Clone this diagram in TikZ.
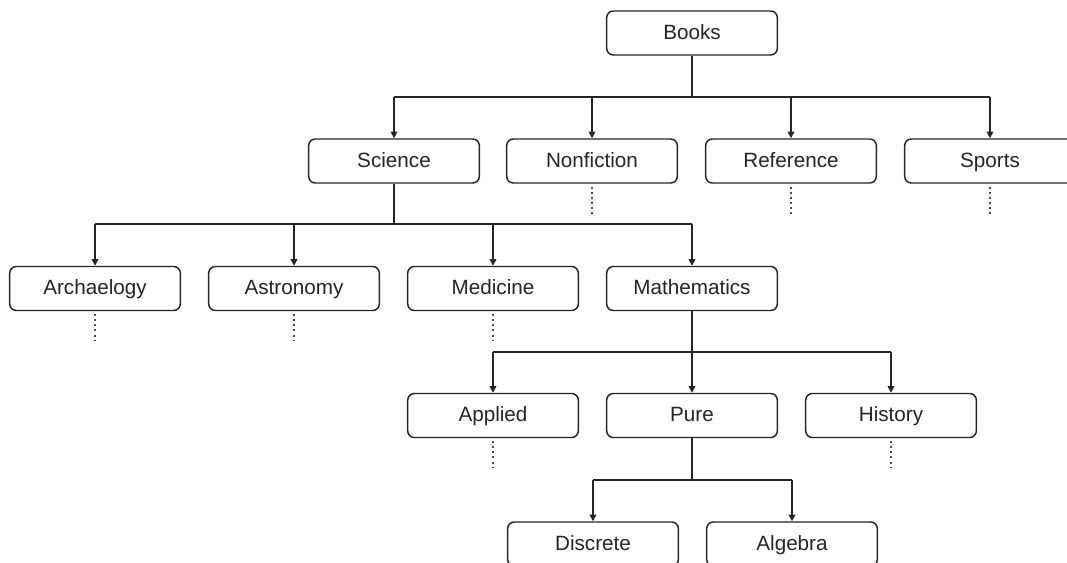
\documentclass[tikz,border=0pt]{standalone}
\usepackage{fontspec}
\setmainfont{Liberation Sans}
\usetikzlibrary{arrows.meta,calc}
\begin{document}
\begin{tikzpicture}[x=0.75pt,y=-0.75pt,
  box/.style={draw=black!85, line width=1.1pt, rounded corners=5pt, fill=white,
    minimum width=128pt, minimum height=33pt, inner sep=0pt,
    text height=11.5pt, text depth=2.5pt,
    font=\fontsize{15.5}{18}\selectfont, text=black!85},
  link/.style={draw=black!85, line width=1.1pt},
  arr/.style={link, -{Triangle[length=5pt,width=5pt]}},
  more/.style={draw=black!70, line width=1.3pt, dash pattern=on 1.5pt off 2.3pt}]
\useasboundingbox (0,0) rectangle (1067,562);

% tree nodes
\node[box] (books) at (692,33) {Books};
\node[box] (science) at (394,161) {Science};
\node[box] (nonfiction) at (592,161) {Nonfiction};
\node[box] (reference) at (791,161) {Reference};
\node[box] (sports) at (990,161) {Sports};
\node[box] (archaelogy) at (95,288.5) {Archaelogy};
\node[box] (astronomy) at (294,288.5) {Astronomy};
\node[box] (medicine) at (493,288.5) {Medicine};
\node[box] (mathematics) at (692,288.5) {Mathematics};
\node[box] (applied) at (493,415.5) {Applied};
\node[box] (pure) at (692,415.5) {Pure};
\node[box] (history) at (891,415.5) {History};
\node[box] (discrete) at (593,544) {Discrete};
\node[box] (algebra) at (792,544) {Algebra};

% branch levels
\coordinate (busA) at (0,97);
\coordinate (busB) at (0,224);
\coordinate (busC) at (0,352);
\coordinate (busD) at (0,480);

% Books -> first level
\draw[link] (books.south) -- (books.south |- busA);
\draw[link] (science.north |- busA) -- (sports.north |- busA);
\foreach \c in {science,nonfiction,reference,sports}
  \draw[arr] (\c.north |- busA) -- (\c.north);

% Science -> second level
\draw[link] (science.south) -- (science.south |- busB);
\draw[link] (archaelogy.north |- busB) -- (mathematics.north |- busB);
\foreach \c in {archaelogy,astronomy,medicine,mathematics}
  \draw[arr] (\c.north |- busB) -- (\c.north);

% Mathematics -> third level
\draw[link] (mathematics.south) -- (mathematics.south |- busC);
\draw[link] (applied.north |- busC) -- (history.north |- busC);
\foreach \c in {applied,pure,history}
  \draw[arr] (\c.north |- busC) -- (\c.north);

% Pure -> fourth level
\draw[link] (pure.south) -- (pure.south |- busD);
\draw[link] (discrete.north |- busD) -- (algebra.north |- busD);
\foreach \c in {discrete,algebra}
  \draw[arr] (\c.north |- busD) -- (\c.north);

% branches that continue further
\foreach \c in {nonfiction,reference,sports,archaelogy,astronomy,medicine,applied,history}{
  \coordinate (\c-end) at ($(\c.south)+(0,30)$);
  \draw[more] ($(\c.south)+(0,3)$) -- (\c-end);
}
\end{tikzpicture}
\end{document}
